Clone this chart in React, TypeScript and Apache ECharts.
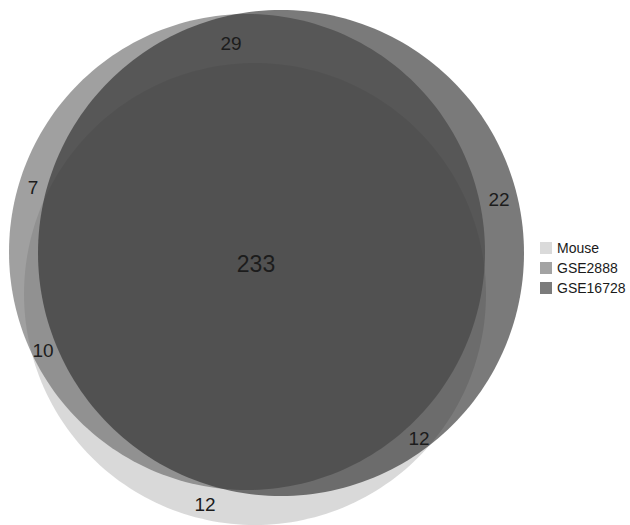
import React, { useEffect, useRef } from 'react';
import * as echarts from 'echarts';

// Sets (legend order) and their legend swatch colours
const setNames = ['Mouse', 'GSE2888', 'GSE16728'];
const legendColors = ['#dadada', '#a3a3a3', '#7b7b7b'];

// Venn region counts
const regionNames = [
  'Mouse ∩ GSE2888 ∩ GSE16728',
  'GSE2888 ∩ GSE16728',
  'GSE2888 only',
  'GSE16728 only',
  'Mouse ∩ GSE2888',
  'Mouse ∩ GSE16728',
  'Mouse only',
];
const regionCounts = [233, 29, 7, 22, 10, 12, 12];

// ---- layout (pixel-unit axes) ----
// circle geometry per set: [cx, cy, r]
const circleLayout = [
  [255, 294, 231],
  [247, 252, 238],
  [281, 253, 243],
];
const circleFills = [
  'rgba(179,179,179,0.5)',
  'rgba(99,99,99,0.61)',
  'rgba(45,45,45,0.632)',
];
// label anchor per region: [x, y, fontSize]
const labelLayout = [
  [256, 264, 23],
  [231, 43, 19],
  [33, 187, 19],
  [499, 199, 19],
  [43, 350, 19],
  [419, 438, 19],
  [205, 504, 19],
];

const FONT = '"Liberation Sans", Arial, Helvetica, sans-serif';

export default function App() {
  const ref = useRef<HTMLDivElement>(null);
  useEffect(() => {
    if (!ref.current) return;
    const chart = echarts.init(ref.current, undefined, { renderer: 'svg' });
    const setSeries = setNames.map((name, i) => ({
      type: 'custom',
      name,
      coordinateSystem: 'cartesian2d',
      silent: true,
      itemStyle: { color: legendColors[i] },
      data: [circleLayout[i]],
      renderItem: (params: any, api: any) => {
        const cx = api.value(0);
        const cy = api.value(1);
        const r = api.value(2);
        const pts: number[][] = [];
        const n = 240;
        for (let k = 0; k < n; k++) {
          const t = (k / n) * Math.PI * 2;
          pts.push(api.coord([cx + r * Math.cos(t), cy + r * Math.sin(t)]));
        }
        return {
          type: 'polygon',
          shape: { points: pts },
          style: { fill: circleFills[i], stroke: 'none' },
        };
      },
    }));
    const labelSeries = {
      type: 'custom',
      name: 'labels',
      coordinateSystem: 'cartesian2d',
      silent: true,
      z: 10,
      data: regionCounts.map((v, j) => [labelLayout[j][0], labelLayout[j][1], v]),
      renderItem: (params: any, api: any) => {
        const p = api.coord([api.value(0), api.value(1)]);
        return {
          type: 'text',
          x: p[0],
          y: p[1],
          style: {
            text: String(api.value(2)),
            fontSize: labelLayout[params.dataIndex][2],
            fontFamily: FONT,
            fill: '#1c1c1c',
            align: 'center',
            verticalAlign: 'middle',
          },
        };
      },
    };
    chart.setOption({
      animation: false,
      backgroundColor: '#ffffff',
      grid: { left: 0, right: 0, top: 0, bottom: 0 },
      xAxis: { type: 'value', min: 0, max: 630, show: false },
      yAxis: { type: 'value', min: 0, max: 525, inverse: true, show: false },
      legend: {
        orient: 'vertical',
        left: 540,
        top: 240,
        icon: 'rect',
        itemWidth: 12,
        itemHeight: 12,
        itemGap: 4,
        padding: 0,
        selectedMode: false,
        data: setNames.map((n, i) => ({ name: n, itemStyle: { color: legendColors[i], opacity: 1 } })),
        textStyle: { fontSize: 14, color: '#1a1a1a', fontFamily: FONT, lineHeight: 16 },
      },
      series: [...setSeries, labelSeries],
    } as any);
    return () => chart.dispose();
  }, []);
  return (
    <div
      ref={ref}
      style={{ position: 'fixed', left: 0, top: 0, width: 630, height: 525 }}
    />
  );
}
